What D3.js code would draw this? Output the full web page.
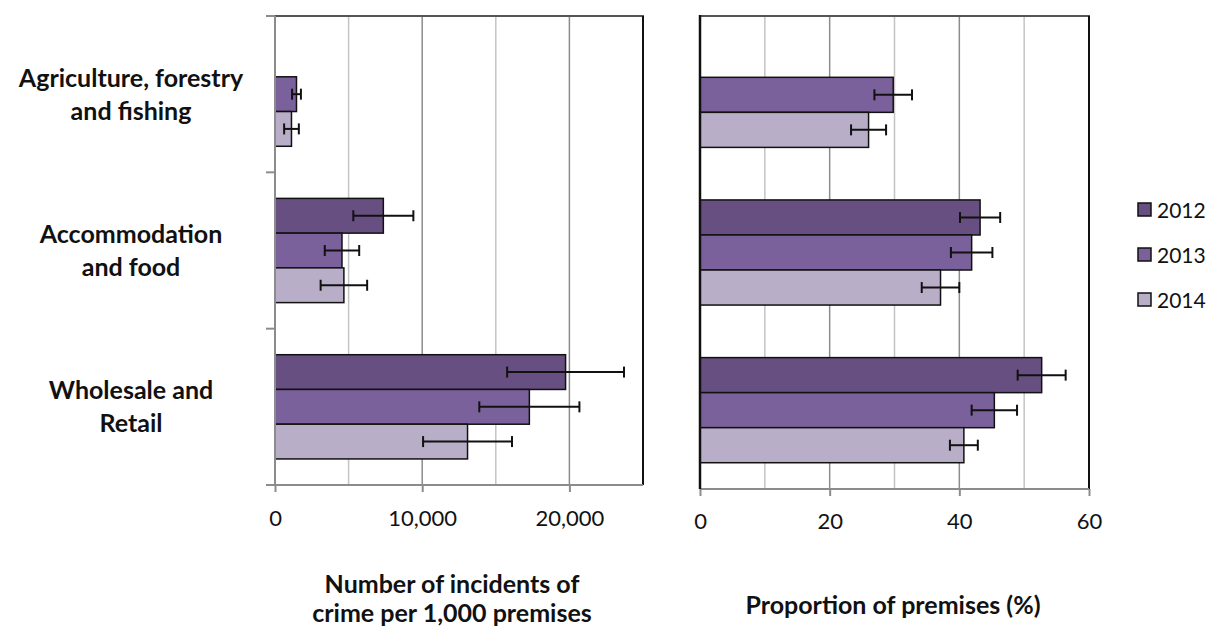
<!DOCTYPE html>
<html>
<head>
<meta charset="utf-8">
<script src="https://cdn.jsdelivr.net/npm/d3@7"></script>
<style>
  html, body { margin: 0; padding: 0; background: #fff; }
  svg { display: block; font-family: Lato, "Open Sans", sans-serif; }
</style>
</head>
<body>
<svg id="chart" width="1215" height="630"></svg>
<script>
// ---------- data ----------
const categories = ["Agriculture, forestry and fishing", "Accommodation and food", "Wholesale and Retail"];
const categoryLines = [["Agriculture, forestry", "and fishing"], ["Accommodation", "and food"], ["Wholesale and", "Retail"]];
const years = ["2012", "2013", "2014"];

const crime2012 = [null, 7360, 19740];
const crime2012Err = [null, 2040, 3970];
const crime2013 = [1460, 4550, 17280];
const crime2013Err = [300, 1170, 3400];
const crime2014 = [1120, 4680, 13080];
const crime2014Err = [500, 1580, 3020];

const prop2012 = [null, 43.2, 52.7];
const prop2012Err = [null, 3.1, 3.7];
const prop2013 = [29.8, 41.9, 45.4];
const prop2013Err = [2.9, 3.2, 3.5];
const prop2014 = [26.0, 37.1, 40.7];
const prop2014Err = [2.7, 2.9, 2.15];

const crimeTicks = [0, 10000, 20000];
const crimeTickLabels = ["0", "10,000", "20,000"];
const crimeGrid = [5000, 10000, 15000, 20000];
const propTicks = [0, 20, 40, 60];
const propTickLabels = ["0", "20", "40", "60"];
const propGrid = [10, 20, 30, 40, 50];

const yearColors = ["#674f81", "#7b619b", "#b8aec8"];

const crimeTitle = ["Number of incidents of", "crime per 1,000 premises"];
const propTitle = ["Proportion of premises (%)"];

// ---------- drawing ----------
const svg = d3.select("#chart");

function rows(v2012, e2012, v2013, e2013, v2014, e2014) {
  const out = [];
  categories.forEach((c, i) => {
    [[v2012, e2012], [v2013, e2013], [v2014, e2014]].forEach((s, j) => {
      if (s[0][i] != null) out.push({ cat: c, year: years[j], value: s[0][i], err: s[1][i], color: yearColors[j] });
    });
  });
  return out;
}

function panel(opts) {
  const g = svg.append("g");
  const x = d3.scaleLinear().domain(opts.domain).range([opts.left, opts.right]);
  const y = d3.scaleBand().domain(categories).range([opts.top, opts.bottom]).padding(0);
  const bw = y.bandwidth();
  const yi = d3.scaleBand().domain(years).range([bw / 6, bw * 5 / 6]).padding(0);

  // gridlines
  g.selectAll("line.grid").data(opts.grid).join("line")
    .attr("x1", d => x(d)).attr("x2", d => x(d))
    .attr("y1", opts.top).attr("y2", opts.bottom)
    .attr("stroke", d => opts.majorTest(d) ? "#8c8c8c" : "#c4c4c4")
    .attr("stroke-width", 1.5);

  // bars
  const data = opts.data;
  g.selectAll("rect.bar").data(data).join("rect")
    .attr("x", x(0))
    .attr("y", d => y(d.cat) + yi(d.year))
    .attr("width", d => x(d.value) - x(0))
    .attr("height", yi.bandwidth())
    .attr("fill", d => d.color)
    .attr("stroke", "#111")
    .attr("stroke-width", 1.5);

  // error bars
  const eg = g.selectAll("g.err").data(data).join("g")
    .attr("transform", d => `translate(0,${y(d.cat) + yi(d.year) + yi.bandwidth() / 2})`);
  eg.append("line")
    .attr("x1", d => x(d.value - d.err)).attr("x2", d => x(d.value + d.err))
    .attr("y1", 0).attr("y2", 0)
    .attr("stroke", "#111").attr("stroke-width", 2);
  eg.append("line")
    .attr("x1", d => x(d.value - d.err)).attr("x2", d => x(d.value - d.err))
    .attr("y1", -5.5).attr("y2", 5.5)
    .attr("stroke", "#111").attr("stroke-width", 2);
  eg.append("line")
    .attr("x1", d => x(d.value + d.err)).attr("x2", d => x(d.value + d.err))
    .attr("y1", -5.5).attr("y2", 5.5)
    .attr("stroke", "#111").attr("stroke-width", 2);

  // border top and right
  g.append("line").attr("x1", opts.left).attr("x2", opts.right + 1).attr("y1", opts.top).attr("y2", opts.top)
    .attr("stroke", "#555").attr("stroke-width", 2);
  g.append("line").attr("x1", opts.right).attr("x2", opts.right).attr("y1", opts.top).attr("y2", opts.bottom)
    .attr("stroke", "#111").attr("stroke-width", 2);

  // bottom axis
  const xAxis = d3.axisBottom(x).tickValues(opts.ticks)
    .tickFormat((d, i) => opts.tickLabels[i]).tickSize(7).tickPadding(opts.tickPad).tickSizeOuter(0);
  const ax = g.append("g").attr("transform", `translate(0,${opts.bottom})`).call(xAxis);
  ax.select(".domain").attr("stroke", "#8c8c8c").attr("stroke-width", 2)
    .attr("d", `M${opts.axisStart},0H${opts.right}`);
  ax.selectAll(".tick line").attr("stroke", "#8c8c8c").attr("stroke-width", 2);
  ax.selectAll(".tick text").attr("font-size", 22).attr("fill", "#111")
    .attr("font-family", "Lato, sans-serif");

  // left axis
  if (opts.leftTicks) {
    const bounds = [opts.top, ...categories.map(c => y(c) + bw)];
    g.selectAll("line.lt").data(bounds).join("line")
      .attr("x1", opts.left - 9).attr("x2", opts.left)
      .attr("y1", d => d).attr("y2", d => d)
      .attr("stroke", "#8c8c8c").attr("stroke-width", 2);
    g.append("line").attr("x1", opts.left).attr("x2", opts.left).attr("y1", opts.top).attr("y2", opts.bottom)
      .attr("stroke", "#8c8c8c").attr("stroke-width", 2);
  } else {
    g.append("line").attr("x1", opts.left).attr("x2", opts.left).attr("y1", opts.top - 1).attr("y2", opts.bottom)
      .attr("stroke", "#111").attr("stroke-width", 2.5);
  }

  // axis title
  const t = g.append("text").attr("text-anchor", "middle").attr("font-weight", "bold")
    .attr("font-size", 25).attr("fill", "#111");
  opts.title.forEach((line, i) => {
    t.append("tspan").attr("x", opts.titleX).attr("y", opts.titleY + i * 29).text(line);
  });
  return y;
}

const yLeft = panel({
  domain: [0, 25000], left: 275, right: 643, top: 16, bottom: 485,
  grid: crimeGrid, majorTest: d => d % 10000 === 0,
  ticks: crimeTicks, tickLabels: crimeTickLabels, tickPad: 18,
  data: rows(crime2012, crime2012Err, crime2013, crime2013Err, crime2014, crime2014Err),
  leftTicks: true, axisStart: 266,
  title: crimeTitle, titleX: 452, titleY: 593
});

panel({
  domain: [0, 60], left: 700, right: 1089, top: 16, bottom: 489,
  grid: propGrid, majorTest: d => d % 20 === 0,
  ticks: propTicks, tickLabels: propTickLabels, tickPad: 17,
  data: rows(prop2012, prop2012Err, prop2013, prop2013Err, prop2014, prop2014Err),
  leftTicks: false, axisStart: 700,
  title: propTitle, titleX: 893, titleY: 614
});

// category labels
categories.forEach((c, i) => {
  const cy = yLeft(c) + yLeft.bandwidth() / 2;
  const t = svg.append("text").attr("text-anchor", "middle").attr("font-weight", "bold")
    .attr("font-size", 25).attr("fill", "#111");
  categoryLines[i].forEach((line, k) => {
    t.append("tspan").attr("x", 131).attr("y", cy - 16.5 + k * 33 + 9).text(line);
  });
});

// legend
const lg = svg.append("g");
years.forEach((yr, i) => {
  const cy = 210 + i * 45;
  lg.append("rect").attr("x", 1138).attr("y", cy - 7).attr("width", 13).attr("height", 13)
    .attr("fill", yearColors[i]).attr("stroke", "#111").attr("stroke-width", 1.5);
  lg.append("text").attr("x", 1157).attr("y", cy + 7.5).attr("font-size", 21).attr("fill", "#111").text(yr);
});
</script>
</body>
</html>
